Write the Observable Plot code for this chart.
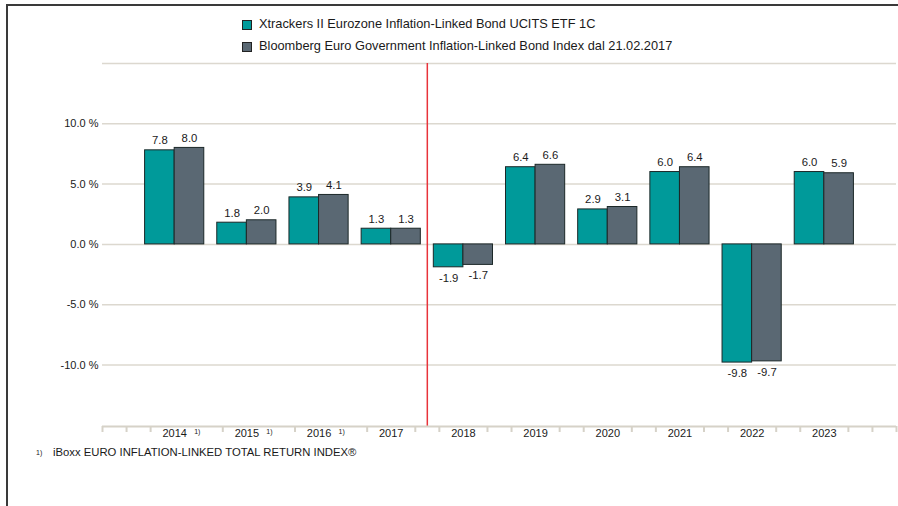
<!DOCTYPE html>
<html><head><meta charset="utf-8">
<script src="https://cdn.jsdelivr.net/npm/d3@7"></script>
<script src="https://cdn.jsdelivr.net/npm/@observablehq/plot@0.6"></script>
<style>
html,body{margin:0;padding:0;background:#fff;}
#wrap{position:relative;width:898px;height:506px;overflow:hidden;font-family:"Liberation Sans",Arial,sans-serif;color:#1a1a1a;background:#fff;}
#chart{position:absolute;left:0;top:0;}
#frame{position:absolute;left:6px;top:4px;width:892px;height:502px;border-top:2px solid #3a3a3a;border-left:2px solid #3a3a3a;box-sizing:border-box;pointer-events:none;}
.sw{position:absolute;width:8px;height:8px;border:1px solid #222;}
.lt{position:absolute;font-size:12.8px;line-height:14px;white-space:nowrap;}
.fn{position:absolute;white-space:nowrap;}
</style>
</head><body>
<div id="wrap">
  <div id="chart"></div>
  <div id="frame"></div>
  <div id="legend"></div>
  <div class="fn" id="fnmark" style="left:36px;top:448.6px;font-size:7px;line-height:8px;"></div>
  <div class="fn" id="fntext" style="left:53px;top:446px;font-size:11.3px;line-height:13px;"></div>
</div>
<script>
// ---- data ----
const years = [2014, 2015, 2016, 2017, 2018, 2019, 2020, 2021, 2022, 2023];
const etfValues = [7.8, 1.8, 3.9, 1.3, -1.9, 6.4, 2.9, 6.0, -9.8, 6.0];
const indexValues = [8.0, 2.0, 4.1, 1.3, -1.7, 6.6, 3.1, 6.4, -9.7, 5.9];
const seriesNames = [
  "Xtrackers II Eurozone Inflation-Linked Bond UCITS ETF 1C",
  "Bloomberg Euro Government Inflation-Linked Bond Index dal 21.02.2017"
];
const seriesColors = ["#009a9a", "#5a6873"];
const footnotedYears = [2014, 2015, 2016];
const footnoteMark = "1)";
const footnoteText = "iBoxx EURO INFLATION-LINKED TOTAL RETURN INDEX®";
const yTicks = [-10, -5, 0, 5, 10];
const gridValues = [-10, -5, 0, 5, 10, 15];
const changeYear = 2017.5; // index change marker between 2017 and 2018

// ---- table ----
const barW = 0.41;
const rows = [];
years.forEach((y, i) => {
  rows.push({year: y, series: seriesNames[0], value: etfValues[i], x1: y - barW, x2: y});
  rows.push({year: y, series: seriesNames[1], value: indexValues[i], x1: y, x2: y + barW});
});
rows.forEach(r => r.xm = (r.x1 + r.x2) / 2);
const pos = rows.filter(r => r.value >= 0);
const neg = rows.filter(r => r.value < 0);

// minor ticks every third of a year, hidden where the labels sit
const minorTicks = d3.range(0, 34).map(i => 2013 + i / 3).filter(t => {
  const r = Math.round(t);
  if (Math.abs(t - r) < 1e-6 && years.includes(r)) return false;
  const b = Math.round(t - 1 / 3);
  if (Math.abs(t - 1 / 3 - b) < 1e-6 && footnotedYears.includes(b)) return false;
  return true;
});

const chart = Plot.plot({
  width: 898,
  height: 506,
  marginLeft: 102,
  marginRight: 2,
  marginTop: 63,
  marginBottom: 80,
  style: {fontFamily: '"Liberation Sans", Arial, sans-serif', fontSize: "11px", color: "#1a1a1a", background: "transparent"},
  x: {type: "linear", domain: [2013, 2024], axis: null},
  y: {domain: [-15.1, 15], axis: null},
  color: {domain: seriesNames, range: seriesColors},
  marks: [
    Plot.ruleY(gridValues, {stroke: "#dcd8cf", strokeWidth: 1.5}),
    Plot.axisY({ticks: yTicks, tickFormat: d => d.toFixed(1) + " %", tickSize: 0, tickPadding: 4, fontSize: 11, label: null}),
    Plot.axisX({ticks: minorTicks, tickFormat: () => "", tickSize: 6, stroke: "#d6d2c8", strokeWidth: 2, label: null}),
    Plot.ruleX([changeYear], {stroke: "#e8333a", strokeWidth: 1.5}),
    Plot.rectY(rows, {x1: "x1", x2: "x2", y1: 0, y2: "value", fill: "series", stroke: "#1c2828", strokeWidth: 1}),
    Plot.text(pos, {x: "xm", y: "value", text: d => d.value.toFixed(1), lineAnchor: "bottom", dy: -6, fontSize: 11.3, fill: "#1a1a1a"}),
    Plot.text(neg, {x: "xm", y: "value", text: d => d.value.toFixed(1), lineAnchor: "top", dy: 6.5, fontSize: 11.3, fill: "#1a1a1a"}),
    Plot.text(years, {x: d => d, frameAnchor: "bottom", text: d => String(d), lineAnchor: "middle", dy: 7, fontSize: 11, fill: "#1a1a1a"}),
    Plot.text(footnotedYears, {x: d => d, frameAnchor: "bottom", text: () => footnoteMark, textAnchor: "start", lineAnchor: "bottom", dx: 19.5, dy: 7, fontSize: 7, fill: "#1a1a1a"}),
    Plot.ruleY([-15.1], {stroke: "#d6d2c8", strokeWidth: 2})
  ]
});
document.getElementById("chart").appendChild(chart);

// legend
const legend = document.getElementById("legend");
const rowTops = [16.8, 38.5];
seriesNames.forEach((name, i) => {
  const sw = document.createElement("div");
  sw.className = "sw";
  sw.style.left = "242px";
  sw.style.top = (rowTops[i] + 3.3) + "px";
  sw.style.background = seriesColors[i];
  legend.appendChild(sw);
  const t = document.createElement("div");
  t.className = "lt";
  t.style.left = "259px";
  t.style.top = rowTops[i] + "px";
  t.textContent = name;
  legend.appendChild(t);
});
document.getElementById("fnmark").textContent = footnoteMark;
document.getElementById("fntext").textContent = footnoteText;
</script>
</body></html>
